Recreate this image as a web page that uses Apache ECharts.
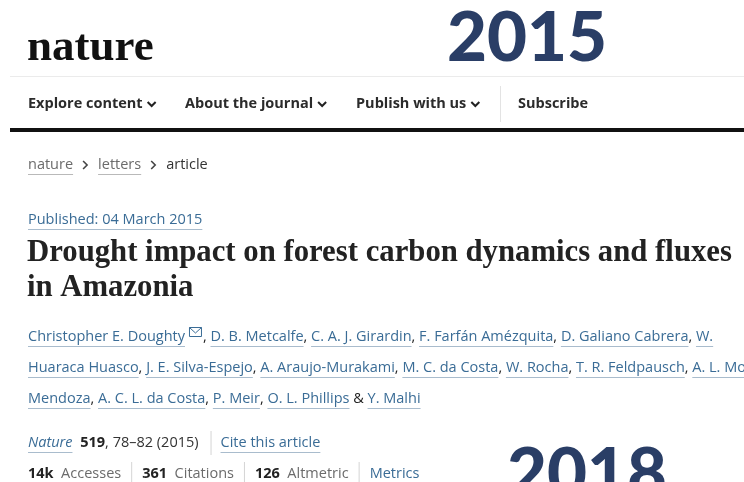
<!DOCTYPE html>
<html>
<head>
<meta charset="utf-8">
<script src="https://cdn.jsdelivr.net/npm/echarts@6/dist/echarts.min.js"></script>
<style>
  html, body { margin: 0; padding: 0; background: #fff; }
  #main { width: 744px; height: 482px; }
</style>
</head>
<body>
<div id="main"></div>
<script>
// page texts
const logoText = 'nature';
const years = ['2015', '2018'];
const navItems = ['Explore content', 'About the journal', 'Publish with us'];
const subscribeText = 'Subscribe';
const crumbs = ['nature', 'letters', 'article'];
const publishedText = 'Published: 04 March 2015';
const titleLines = ['Drought impact on forest carbon dynamics and fluxes', 'in Amazonia'];
const authorRows = [
  ['Christopher E. Doughty', 'D. B. Metcalfe', 'C. A. J. Girardin', 'F. Farfán Amézquita', 'D. Galiano Cabrera', 'W.'],
  ['Huaraca Huasco', 'J. E. Silva-Espejo', 'A. Araujo-Murakami', 'M. C. da Costa', 'W. Rocha', 'T. R. Feldpausch', 'A. L. Monteagudo'],
  ['Mendoza', 'A. C. L. da Costa', 'P. Meir', 'O. L. Phillips', 'Y. Malhi']
];
const journal = ['Nature', '519', ', 78–82 (2015)', 'Cite this article'];
const metricValues = ['14k', '361', '126'];
const metricLabels = ['Accesses', 'Citations', 'Altmetric'];
const metricsLink = 'Metrics';

const SANS = "'Open Sans', 'Noto Sans', sans-serif";
const SERIF = "'Liberation Serif', 'DejaVu Serif', serif";
const FS = 14.5;
const LINK = '#3a6c96';
const ULINE = '#a9bccd';
const DARK = '#222222';
const GREY = '#6b6b6b';
const NAVY = '#2a3e66';

const ctx = document.createElement('canvas').getContext('2d');
function fontOf(s) {
  return (s.style || 'normal') + ' ' + (s.weight || 'normal') + ' ' + (s.size || FS) + 'px ' + (s.family || SANS);
}
function widthOf(s) {
  ctx.font = fontOf(s);
  return ctx.measureText(s.t).width;
}

let els = [];

// lay a row of text pieces left to right
function flow(x, y, segs) {
  let cx = x;
  segs.forEach(s => {
    if (s.gap) { cx += s.gap; return; }
    if (s.sep) {
      els.push({ type: 'line', shape: { x1: cx + 0.5, y1: y - 12, x2: cx + 0.5, y2: y + 12 }, style: { stroke: '#d5d5d5', lineWidth: 1 } });
      cx += 1;
      return;
    }
    if (s.arrow) {
      els.push({ type: 'polyline', shape: { points: [[cx, y - 4], [cx + 4, y], [cx, y + 4]] }, style: { fill: 'none', stroke: '#444', lineWidth: 1.6 } });
      cx += 5;
      return;
    }
    if (s.mail) {
      els.push({ type: 'rect', shape: { x: cx + 4.5, y: y - 9.5, width: 12, height: 9 }, style: { fill: 'none', stroke: LINK, lineWidth: 1 } });
      els.push({ type: 'polyline', shape: { points: [[cx + 4.5, y - 9.5], [cx + 10.5, y - 4], [cx + 16.5, y - 9.5]] }, style: { fill: 'none', stroke: LINK, lineWidth: 1 } });
      cx += 18;
      return;
    }
    const w = widthOf(s);
    els.push({
      type: 'text', x: cx, y: y,
      style: { text: s.t, font: fontOf(s), fill: s.c || DARK, verticalAlign: 'middle' }
    });
    if (s.u) {
      const uy = Math.round(y + (s.size || FS) * 0.6) + 0.5;
      els.push({ type: 'line', shape: { x1: cx, y1: uy, x2: cx + w, y2: uy }, style: { stroke: s.uc || ULINE, lineWidth: 1 } });
    }
    cx += w;
  });
  return cx;
}

function chevron(x, y) {
  els.push({ type: 'polyline', shape: { points: [[x, y - 2], [x + 4, y + 2], [x + 8, y - 2]] }, style: { fill: 'none', stroke: DARK, lineWidth: 2 } });
}

// header
els.push({ type: 'text', x: 27, y: 48, style: { text: logoText, font: 'normal bold 45px Liberation Serif, serif', fill: '#111', verticalAlign: 'middle' } });
els.push({ type: 'text', x: 447, y: 39, style: { text: years[0], font: 'normal 900 69px Lato, sans-serif', fill: NAVY, verticalAlign: 'middle' } });
els.push({ type: 'line', shape: { x1: 10, y1: 76.5, x2: 744, y2: 76.5 }, style: { stroke: '#ebebeb', lineWidth: 1 } });

const navX = [28, 185, 356];
navItems.forEach((t, i) => {
  const end = flow(navX[i], 104, [{ t: t, weight: 'bold', size: 14.5, c: '#2b2b2b' }]);
  chevron(end + 5, 104);
});
els.push({ type: 'line', shape: { x1: 500.5, y1: 86, x2: 500.5, y2: 122 }, style: { stroke: '#e3e3e3', lineWidth: 1 } });
flow(518, 104, [{ t: subscribeText, weight: 'bold', size: 14.5, c: '#2b2b2b' }]);
els.push({ type: 'rect', shape: { x: 10, y: 128, width: 734, height: 4 }, style: { fill: '#111' } });

// breadcrumb
const crumbSegs = [];
crumbs.forEach((t, i) => {
  const last = i === crumbs.length - 1;
  crumbSegs.push({ t: t, c: last ? '#333' : GREY, u: !last, uc: '#b9b9b9' });
  if (!last) crumbSegs.push({ gap: 10 }, { arrow: true }, { gap: 10 });
});
flow(28, 165, crumbSegs);

flow(28, 220, [{ t: publishedText, c: LINK, u: true }]);

// title, sized so the first line spans the column
ctx.font = 'normal bold 30px ' + SERIF;
const titleSize = 30 * 705 / ctx.measureText(titleLines[0]).width;
titleLines.forEach((t, i) => {
  els.push({ type: 'text', x: 27, y: 253 + i * 35, style: { text: t, font: 'normal bold ' + titleSize.toFixed(2) + 'px ' + SERIF, fill: DARK, verticalAlign: 'middle' } });
});

// authors
const rowY = [337, 368, 399];
authorRows.forEach((row, r) => {
  const segs = [];
  row.forEach((name, i) => {
    const last = i === row.length - 1;
    if (r === 2 && last) segs.push({ t: ' & ', c: DARK });
    segs.push({ t: name, c: LINK, u: true });
    if (r === 0 && i === 0) segs.push({ mail: true });
    if (!last && !(r === 2 && i === row.length - 2)) segs.push({ t: ', ', c: DARK });
  });
  flow(28, rowY[r], segs);
});

// journal line
flow(28, 443, [
  { t: journal[0], style: 'italic', c: LINK, u: true },
  { gap: 4 },
  { t: ' ' + journal[1], weight: 'bold', c: DARK },
  { t: journal[2], c: '#333' },
  { gap: 12 }, { sep: true }, { gap: 9 },
  { t: journal[3], c: LINK, u: true }
]);

// metrics line
const mSegs = [];
metricValues.forEach((v, i) => {
  mSegs.push({ t: v, weight: 'bold', c: DARK });
  mSegs.push({ t: '  ' + metricLabels[i], c: GREY });
  mSegs.push({ gap: 10 }, { sep: true }, { gap: 10 });
});
mSegs.push({ t: metricsLink, c: LINK, u: true });
flow(28, 474, mSegs);

els.push({ type: 'text', x: 507, y: 475, style: { text: years[1], font: 'normal 900 69px Lato, sans-serif', fill: NAVY, verticalAlign: 'middle' } });

const chart = echarts.init(document.getElementById('main'));
chart.setOption({
  backgroundColor: '#ffffff',
  animation: false,
  graphic: { elements: els }
});
</script>
</body>
</html>
